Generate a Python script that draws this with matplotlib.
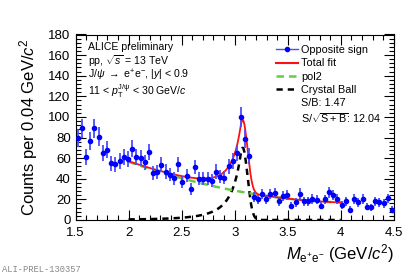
import numpy as np
import matplotlib
matplotlib.use('Agg')
import matplotlib.pyplot as plt
from matplotlib.lines import Line2D
from matplotlib.ticker import MultipleLocator

plt.rcParams['font.family'] = ['Liberation Sans', 'DejaVu Sans']
plt.rcParams['mathtext.fontset'] = 'custom'
plt.rcParams['mathtext.rm'] = 'Liberation Sans'
plt.rcParams['mathtext.it'] = 'Liberation Sans:italic'

# Cuentas por bin (0.04 GeV/c2)
counts = [79.5, 89, 61, 77, 89, 81, 65, 68, 55, 54,
          57, 61, 59.5, 69, 61, 60, 56, 66, 45.5, 46.5,
          53.5, 47, 44, 40.5, 54, 37, 43, 30, 51.5, 40,
          40, 40, 38, 47, 42, 41, 52, 57, 65, 100,
          79, 62, 22, 20, 25, 20, 25, 26, 18, 23,
          24.5, 14, 17, 25.5, 18, 18, 20.5, 19.5, 14, 20,
          27, 24, 20.5, 14.7, 18, 10, 20.5, 17, 20.5, 13,
          12.4, 18, 17, 16, 21, 10]
counts = np.array(counts)
mass = 1.52 + 0.0395 * np.arange(len(counts))
err = np.sqrt(counts)

# Parametros del ajuste (pol2 + Crystal Ball)
pol2_par = [28.5, -19.75, 8.25]   # a + b*(m-3) + c*(m-3)^2
cb_norm, cb_mean, cb_sigma, cb_alpha, cb_n = 70.0, 3.076, 0.045, 0.5, 3.0
fit_range = (2.0, 4.0)


def pol2(m):
    t = m - 3.0
    return pol2_par[0] + pol2_par[1] * t + pol2_par[2] * t ** 2


def crystal_ball(m):
    t = (m - cb_mean) / cb_sigma
    A = (cb_n / cb_alpha) ** cb_n * np.exp(-cb_alpha ** 2 / 2)
    B = cb_n / cb_alpha - cb_alpha
    tail = A * np.abs(B - t) ** (-cb_n)
    core = np.exp(-t ** 2 / 2)
    return cb_norm * np.where(t > -cb_alpha, core, tail)


mfit = np.linspace(fit_range[0], fit_range[1], 600)

fig = plt.figure(figsize=(4.15, 2.76), dpi=100)
ax = fig.add_axes([0.182, 0.203, 0.767, 0.672])

ax.plot(mfit, crystal_ball(mfit), color='black', lw=1.8, ls=(0, (2.5, 2)))
ax.plot(mfit, pol2(mfit), color='#66cc44', lw=1.8, ls=(0, (3, 2)))
ax.plot(mfit, pol2(mfit) + crystal_ball(mfit), color='#ff1010', lw=1.3)
ax.errorbar(mass, counts, yerr=err, fmt='o', ms=3, color='#0000ff',
            ecolor='#4d4dff', elinewidth=1.3, capsize=0, zorder=5)

ax.set_xlim(1.5, 4.5)
ax.set_ylim(0, 180)
ax.xaxis.set_major_locator(MultipleLocator(0.5))
ax.xaxis.set_minor_locator(MultipleLocator(0.1))
ax.yaxis.set_major_locator(MultipleLocator(20))
ax.yaxis.set_minor_locator(MultipleLocator(4))
ax.tick_params(which='both', direction='in', top=True, right=True, labelsize=9.5, width=0.8)
ax.tick_params(which='major', length=7)
ax.tick_params(which='minor', length=3.5)
ax.tick_params(axis='x', pad=5)
ax.set_xticks([1.5, 2, 2.5, 3, 3.5, 4, 4.5])
ax.set_xticklabels(['1.5', '2', '2.5', '3', '3.5', '4', '4.5'])

ax.set_ylabel(r'Counts per 0.04 GeV/$c^2$', fontsize=12, labelpad=6)
ax.set_xlabel(r'$M_{\rm e^{+}e^{-}}$ (GeV/$c^2$)', fontsize=12, loc='right', labelpad=2)

txt = ['ALICE preliminary',
       r'pp, $\sqrt{s}$ = 13 TeV',
       r'J/$\psi$ $\rightarrow$ e$^{+}$e$^{-}$, |$y$| < 0.9',
       r'11 < $p_{\rm T}^{\rm J/\psi}$ < 30 GeV/$c$']
ypos = [0.93, 0.857, 0.782, 0.697]
for t, yy in zip(txt, ypos):
    ax.text(0.04, yy, t, transform=ax.transAxes, fontsize=7.6, va='center')

handles = [Line2D([], [], color='#4d4dff', marker='o', ms=3, mfc='#0000ff', mec='#0000ff', lw=1),
           Line2D([], [], color='#ff1010', lw=1.5),
           Line2D([], [], color='#66cc44', lw=1.8, ls=(0, (3, 2))),
           Line2D([], [], color='black', lw=1.8, ls=(0, (2.5, 2))),
           Line2D([], [], color='none'),
           Line2D([], [], color='none')]
labels = ['Opposite sign', 'Total fit', 'pol2', 'Crystal Ball',
          'S/B: 1.47', r'S/$\sqrt{\rm S+B}$: 12.04']
ax.legend(handles, labels, loc='upper left', bbox_to_anchor=(0.612, 0.972), frameon=False,
          fontsize=7.8, handlelength=2.1, handletextpad=0.25, labelspacing=0.3, borderpad=0)

fig.text(0.005, 0.016, 'ALI-PREL-130357', fontsize=6.3, color='#888888',
         family=['Liberation Mono', 'DejaVu Sans Mono'])

fig.savefig('out.png', dpi=100)
